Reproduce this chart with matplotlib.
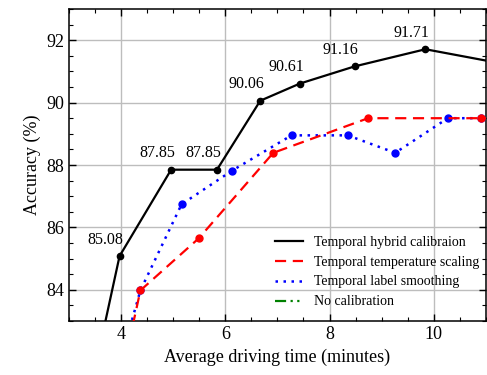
import numpy as np
import matplotlib
matplotlib.use("Agg")
import matplotlib.pyplot as plt
from matplotlib.ticker import MultipleLocator

plt.rcParams['font.family'] = ['Liberation Serif', 'DejaVu Serif']
plt.rcParams['mathtext.fontset'] = 'stix'

# datos
x_hybrid = [3.55, 3.97, 4.96, 5.84, 6.67, 7.43, 8.48, 9.84, 11.6]
y_hybrid = [81.85, 85.08, 87.85, 87.85, 90.06, 90.61, 91.16, 91.71, 91.16]
etiquetas = ["85.08", "87.85", "87.85", "90.06", "90.61", "91.16", "91.71"]

x_temp = [4.15, 4.37, 5.49, 6.92, 8.74, 10.91, 11.6]
y_temp = [82.3, 83.98, 85.65, 88.39, 89.5, 89.5, 89.5]

x_label = [4.0, 4.37, 5.16, 6.13, 7.27, 8.35, 9.26, 10.27, 10.91]
y_label = [81.8, 83.98, 86.74, 87.82, 88.95, 88.95, 88.39, 89.5, 89.5]

fig = plt.figure(figsize=(4.87, 3.75), dpi=100)
ax = fig.add_axes([0.1417, 0.144, 0.856, 0.832])

ax.plot(x_hybrid, y_hybrid, color='black', lw=1.6, marker='o', ms=4.5,
        label='Temporal hybrid calibraion', zorder=5)
ax.plot(x_label, y_label, color='blue', lw=1.8, ls=(0, (1, 2.2)), marker='o', ms=5,
        label='Temporal label smoothing', zorder=3)
ax.plot(x_temp, y_temp, color='red', lw=1.6, ls=(0, (5, 3)), marker='o', ms=5,
        label='Temporal temperature scaling', zorder=4)
ax.plot([], [], color='green', lw=1.6, ls=(0, (5, 2, 1, 2, 1, 2)), label='No calibration')

# etiquetas de la curva negra
for xi, yi, t in zip(x_hybrid[1:-1], y_hybrid[1:-1], etiquetas):
    ax.annotate(t, (xi, yi), xytext=(-10, 6), textcoords='offset points',
                ha='center', va='bottom', fontsize=11.5)

ax.set_xlim(3, 11)
ax.set_ylim(83, 93)
ax.xaxis.set_major_locator(MultipleLocator(2))
ax.xaxis.set_minor_locator(MultipleLocator(0.5))
ax.yaxis.set_major_locator(MultipleLocator(2))
ax.yaxis.set_minor_locator(MultipleLocator(0.5))
ax.tick_params(which='both', direction='in', top=True, right=True, labelsize=13)
ax.tick_params(which='major', length=5, width=1)
ax.tick_params(which='minor', length=3, width=0.8)
ax.grid(True, which='major', color='#bdbdbd', lw=1)
ax.set_axisbelow(True)
for s in ax.spines.values():
    s.set_linewidth(1.1)

ax.set_xlabel('Average driving time (minutes)', fontsize=13)
ax.set_ylabel('Accuracy (%)', fontsize=13)

h, l = ax.get_legend_handles_labels()
orden = [0, 2, 1, 3]
leg = ax.legend([h[i] for i in orden], [l[i] for i in orden], loc='lower right',
                bbox_to_anchor=(1.0, 0.018), frameon=False, fontsize=10,
                handlelength=2.0, handletextpad=0.8, borderaxespad=0.1)
for ln in leg.get_lines():
    ln.set_marker('')

fig.savefig('out.png', dpi=100)
